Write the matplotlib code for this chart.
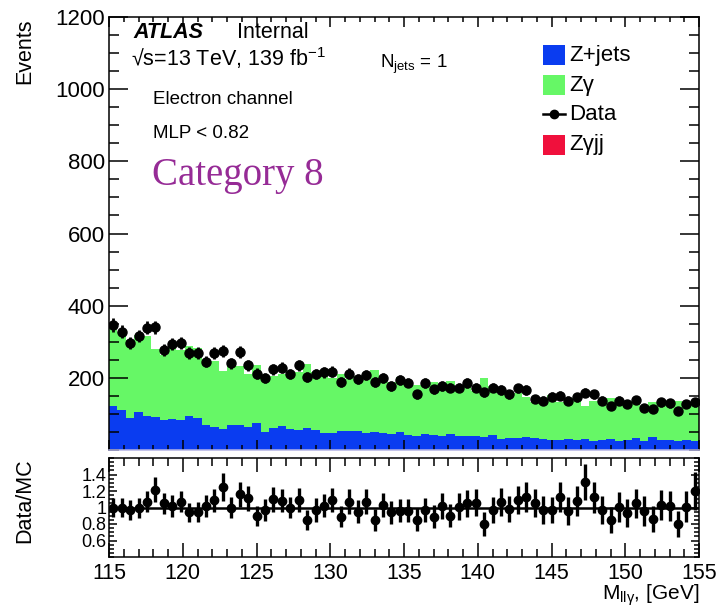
import numpy as np
import matplotlib
matplotlib.use("Agg")
from matplotlib import pyplot as plt
from matplotlib.patches import Rectangle
from matplotlib.lines import Line2D
from matplotlib.ticker import MultipleLocator, FixedLocator, FixedFormatter

plt.rcParams['font.family'] = ['Liberation Sans', 'DejaVu Sans']
plt.rcParams['mathtext.fontset'] = 'custom'
plt.rcParams['mathtext.rm'] = 'Liberation Sans'
plt.rcParams['mathtext.it'] = 'Liberation Sans:italic'
plt.rcParams['mathtext.bf'] = 'Liberation Sans:bold'

# binning of m_llgamma
x_lo, x_hi, n_bins = 115, 155, 70

# data counts per bin
data = [346, 328, 296, 316, 339, 340, 277, 294, 296, 270,
        270, 245, 270, 274, 240, 271, 235, 212, 199, 224,
        228, 210, 235, 203, 210, 215, 217, 189, 212, 196,
        208, 189, 199, 178, 194, 187, 154, 185, 168, 178,
        173, 173, 185, 173, 160, 173, 166, 155, 171, 166,
        141, 137, 148, 150, 137, 146, 159, 154, 137, 122,
        137, 127, 139, 117, 114, 132, 129, 108, 127, 132]

# Z+jets (blue)
zjets = [122, 111, 90, 104, 95, 92, 83, 86, 83, 95,
         90, 69, 65, 57, 69, 69, 65, 76, 51, 62,
         67, 58, 55, 60, 56, 46, 46, 53, 53, 53,
         46, 50, 48, 45, 50, 42, 40, 44, 42, 38,
         45, 40, 38, 40, 36, 42, 30, 34, 33, 36,
         32, 30, 28, 29, 30, 27, 31, 26, 28, 30,
         25, 29, 33, 26, 35, 27, 28, 26, 29, 24]

# Z gamma (green), stacked on Z+jets
zgamma = [224, 217, 215, 215, 222, 188, 181, 202, 194, 192,
          194, 171, 183, 162, 171, 165, 147, 160, 154, 142,
          144, 152, 161, 179, 160, 165, 153, 159, 145, 153,
          148, 172, 145, 144, 152, 153, 141, 147, 147, 137,
          147, 131, 138, 123, 164, 136, 125, 124, 124, 112,
          102, 111, 125, 104, 113, 108, 90, 111, 113, 114,
          111, 108, 99, 96, 98, 101, 98, 109, 97, 112]

# Data/MC ratio as drawn in the lower pad
ratio = [1.0, 1.0, 0.97, 0.99, 1.07, 1.215, 1.05, 1.02, 1.07, 0.94,
         0.95, 1.02, 1.09, 1.25, 1.0, 1.16, 1.11, 0.90, 0.97, 1.10,
         1.08, 1.0, 1.09, 0.85, 0.97, 1.02, 1.09, 0.89, 1.07, 0.95,
         1.07, 0.85, 1.03, 0.94, 0.96, 0.96, 0.85, 0.97, 0.89, 1.02,
         0.90, 1.01, 1.05, 1.06, 0.80, 0.97, 1.07, 0.98, 1.09, 1.125,
         1.05, 0.97, 0.97, 1.13, 0.96, 1.08, 1.31, 1.125, 0.97, 0.85,
         1.01, 0.93, 1.05, 0.96, 0.86, 1.03, 1.02, 0.80, 1.01, 1.2]

ratio_err = [0.12, 0.12, 0.12, 0.12, 0.13, 0.15, 0.13, 0.13, 0.13, 0.12,
             0.12, 0.13, 0.14, 0.17, 0.13, 0.15, 0.15, 0.12, 0.13, 0.15,
             0.14, 0.13, 0.15, 0.12, 0.14, 0.14, 0.15, 0.13, 0.15, 0.14,
             0.15, 0.13, 0.15, 0.14, 0.14, 0.14, 0.14, 0.15, 0.14, 0.16,
             0.14, 0.16, 0.16, 0.16, 0.14, 0.16, 0.17, 0.16, 0.17, 0.18,
             0.17, 0.17, 0.16, 0.18, 0.17, 0.18, 0.22, 0.19, 0.17, 0.16,
             0.18, 0.17, 0.18, 0.18, 0.16, 0.18, 0.18, 0.16, 0.19, 0.23]

x_ticks = [115, 120, 125, 130, 135, 140, 145, 150, 155]
y_ticks = [200, 400, 600, 800, 1000, 1200]
r_ticks = [0.6, 0.8, 1.0, 1.2, 1.4]
r_labels = ['0.6', '0.8', '1', '1.2', '1.4']

c_zjets = '#0a3cf0'
c_zgamma = '#66f766'
c_zgjj = '#f0103c'
c_cat = '#962b96'

W, H = 723, 610


def fx(px):
    return px / W


def fy(py):
    return 1 - py / H


edges = np.linspace(x_lo, x_hi, n_bins + 1)
centers = 0.5 * (edges[:-1] + edges[1:])
data = np.array(data, dtype=float)
zjets = np.array(zjets, dtype=float)
zgamma = np.array(zgamma, dtype=float)

fig = plt.figure(figsize=(W / 100, H / 100), dpi=100)
ax = fig.add_axes([fx(109), fy(450), fx(699) - fx(109), fy(17) - fy(450)])
rax = fig.add_axes([fx(109), fy(557), fx(699) - fx(109), fy(458) - fy(557)])

# stacked MC
ax.stairs(zjets, edges, fill=True, color=c_zjets, linewidth=0)
ax.stairs(zjets + zgamma, edges, baseline=zjets, fill=True, color=c_zgamma, linewidth=0)
# data
ax.errorbar(centers, data, yerr=np.sqrt(data), fmt='o', color='black',
            markersize=6.5, elinewidth=2, capsize=0)

ax.set_xlim(x_lo, x_hi)
ax.set_ylim(0, 1200)
ax.xaxis.set_major_locator(FixedLocator(x_ticks))
ax.xaxis.set_minor_locator(MultipleLocator(1))
ax.yaxis.set_major_locator(FixedLocator(y_ticks))
ax.yaxis.set_minor_locator(MultipleLocator(50))
ax.tick_params(axis='both', which='both', direction='in', top=True, right=True,
               labelbottom=False, width=1.1)
ax.tick_params(axis='y', which='major', length=14, labelsize=16, pad=3)
ax.tick_params(axis='y', which='minor', length=7)
ax.tick_params(axis='x', which='major', length=7)
ax.tick_params(axis='x', which='minor', length=3.5)
for s in ax.spines.values():
    s.set_linewidth(1.1)
ax.spines['bottom'].set_color('#b4b4e6')

# ratio pad
rax.axhline(1.0, color='black', linewidth=1.8)
rax.errorbar(centers, ratio, yerr=ratio_err, fmt='o', color='black',
             markersize=6, elinewidth=2.4, capsize=0)
rax.set_xlim(x_lo, x_hi)
rax.set_ylim(0.4, 1.6)
rax.xaxis.set_major_locator(FixedLocator(x_ticks))
rax.xaxis.set_minor_locator(MultipleLocator(1))
rax.yaxis.set_major_locator(FixedLocator(r_ticks))
rax.yaxis.set_major_formatter(FixedFormatter(r_labels))
rax.yaxis.set_minor_locator(MultipleLocator(0.05))
rax.tick_params(axis='both', which='both', direction='in', top=True, right=True, width=1.1)
rax.tick_params(axis='x', which='major', length=10, labelsize=15.5, pad=4)
rax.tick_params(axis='x', which='minor', length=5.5)
rax.tick_params(axis='y', which='major', length=6, labelsize=13, pad=2)
rax.tick_params(axis='y', which='minor', length=3.5)
for s in rax.spines.values():
    s.set_linewidth(1.1)

# axis titles
fig.text(fx(25), fy(18), 'Events', rotation=90, ha='center', va='top', fontsize=15.5)
fig.text(fx(25), fy(501), 'Data/MC', rotation=90, ha='center', va='center', fontsize=15.5)
fig.text(fx(699), fy(600), r'M$_{\mathrm{ll\gamma}}$, [GeV]', ha='right', va='baseline', fontsize=15)

# labels
fig.text(fx(133), fy(38), 'ATLAS', fontsize=15.5, fontweight='bold', fontstyle='italic', va='baseline')
fig.text(fx(237), fy(38), 'Internal', fontsize=15.5, va='baseline')
fig.text(fx(131), fy(66), '\u221as=13 TeV, 139 fb$^{\\mathrm{-1}}$', fontsize=15.5, va='baseline')
fig.text(fx(380), fy(68), r'N$_{\mathrm{jets}}$ = 1', fontsize=13.5, va='baseline')
fig.text(fx(153), fy(104), 'Electron channel', fontsize=13.5, va='baseline')
fig.text(fx(153), fy(138), 'MLP < 0.82', fontsize=13.5, va='baseline')
fig.text(fx(152), fy(185), 'Category 8', fontsize=28, va='baseline', color=c_cat,
         family=['Liberation Serif', 'DejaVu Serif'])

# legend
leg_rows = [('Z+jets', c_zjets, 55), ('Z\u03b3', c_zgamma, 85),
            ('Data', None, 114), ('Z\u03b3jj', c_zgjj, 145)]
for label, col, yc in leg_rows:
    if col is None:
        fig.add_artist(Line2D([fx(543), fx(565)], [fy(yc), fy(yc)], color='black',
                              linewidth=1.8, transform=fig.transFigure))
        fig.add_artist(Line2D([fx(554)], [fy(yc)], color='black', marker='o',
                              markersize=6, transform=fig.transFigure))
    else:
        fig.add_artist(Rectangle((fx(543), fy(yc + 10)), fx(565) - fx(543), fy(yc - 10) - fy(yc + 10),
                                 color=col, transform=fig.transFigure, linewidth=0))
    fig.text(fx(569), fy(yc), label, fontsize=16, va='center')

fig.savefig('out.png', dpi=100)
